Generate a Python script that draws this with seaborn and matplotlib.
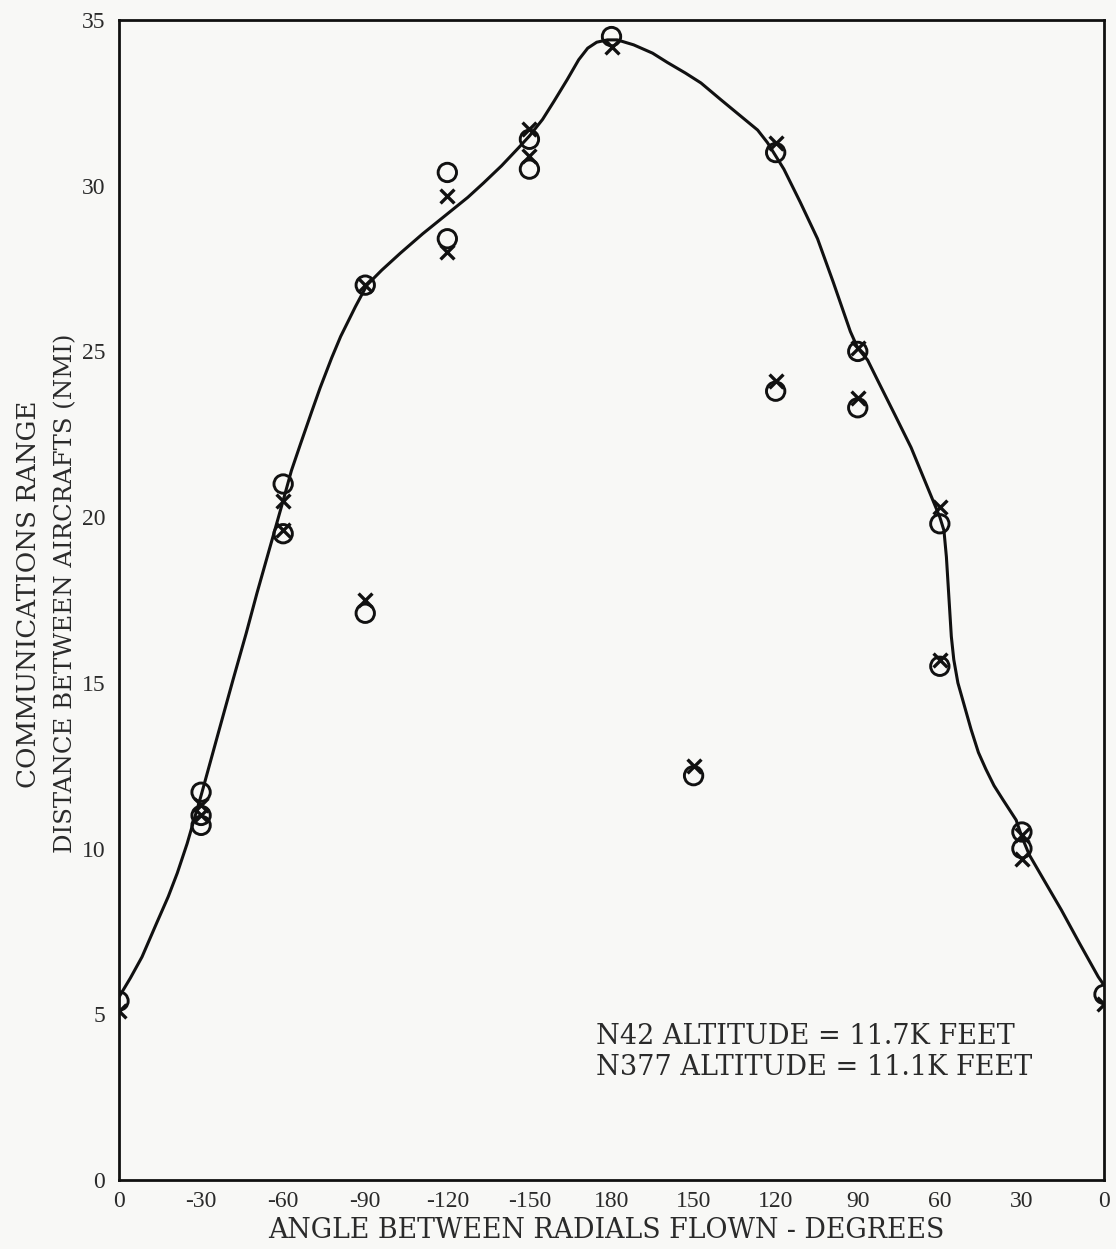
import numpy as np
import pandas as pd
import matplotlib
matplotlib.use("Agg")
import matplotlib.pyplot as plt
import seaborn as sns

# ---- data (x measured as sweep position in degrees, 0..360, labelled by angle) ----
tick_pos = [0, 30, 60, 90, 120, 150, 180, 210, 240, 270, 300, 330, 360]
tick_labels = ["0", "-30", "-60", "-90", "-120", "-150", "180", "150", "120", "90", "60", "30", "0"]
y_ticks = [0, 5, 10, 15, 20, 25, 30, 35]

circle_x = [0, 30, 30, 30, 60, 60, 90, 90, 120, 120, 150, 150, 180, 210, 240, 240, 270, 270, 300, 300, 330, 330, 360]
circle_y = [5.4, 11.7, 11.0, 10.7, 21.0, 19.5, 17.1, 27.0, 30.4, 28.4, 31.4, 30.5, 34.5, 12.2, 31.0, 23.8, 25.0, 23.3, 19.8, 15.5, 10.5, 10.0, 5.6]

cross_x = [0, 30, 30, 60, 60, 90, 90, 120, 120, 150, 150, 180, 210, 240, 240, 270, 270, 300, 300, 330, 330, 360]
cross_y = [5.1, 11.3, 11.0, 20.5, 19.6, 17.5, 27.0, 29.7, 28.0, 31.7, 30.9, 34.2, 12.5, 31.3, 24.1, 25.1, 23.6, 20.3, 15.7, 10.4, 9.7, 5.3]

# hand-drawn fitted curve (x in degrees of sweep)
curve_x = [0.0, 4.2, 8.4, 13.8, 18.0, 21.3, 24.9, 30.0, 36.0, 41.7, 46.5, 50.4, 55.2, 60.0,
           63.0, 66.3, 70.5, 73.5, 77.7, 81.0, 86.4, 90.6, 96.0, 102.9, 111.0, 120.0, 127.5,
           133.2, 139.8, 146.1, 150.0, 154.8, 159.0, 163.8, 168.0, 171.3, 174.6, 178.5,
           182.1, 188.1, 195.0, 200.4, 207.0, 212.7, 219.9, 226.5, 233.4, 237.0, 240.0,
           243.0, 249.0, 255.3, 261.0, 267.3, 270.0, 273.6, 277.2, 283.5, 289.5, 295.5,
           300.0, 301.5, 302.4, 303.0, 303.6, 304.2, 305.1, 306.6, 309.0, 311.4, 314.1,
           316.8, 319.8, 323.1, 327.9, 330.0, 332.7, 338.4, 344.4, 351.0, 357.9, 360.0]
curve_y = [5.52, 6.10, 6.73, 7.76, 8.55, 9.26, 10.15, 11.60, 13.40, 15.10, 16.50, 17.70,
           19.10, 20.50, 21.40, 22.20, 23.20, 23.90, 24.80, 25.45, 26.35, 27.00, 27.45,
           27.97, 28.55, 29.15, 29.65, 30.08, 30.60, 31.15, 31.50, 32.00, 32.55, 33.20,
           33.80, 34.15, 34.33, 34.40, 34.40, 34.25, 34.00, 33.72, 33.40, 33.10, 32.60,
           32.15, 31.68, 31.30, 30.90, 30.50, 29.50, 28.40, 27.10, 25.60, 25.10, 24.74,
           24.14, 23.10, 22.10, 20.90, 20.00, 19.60, 18.80, 18.00, 17.20, 16.40, 15.70,
           15.00, 14.30, 13.60, 12.90, 12.40, 11.90, 11.47, 10.86, 10.35, 9.81, 9.00, 8.15,
           7.15, 6.13, 5.88]

annotation_lines = ["N42 ALTITUDE = 11.7K FEET", "N377 ALTITUDE = 11.1K FEET"]
xlabel = "ANGLE BETWEEN RADIALS FLOWN - DEGREES"
ylabel_1 = "COMMUNICATIONS RANGE"
ylabel_2 = "DISTANCE BETWEEN AIRCRAFTS (NMI)"

# ---- figure ----
sns.set_theme(style="white")
plt.rcParams["font.family"] = ["Liberation Serif", "DejaVu Serif"]
paper = "#f8f8f6"
ink = "#111111"
text_ink = "#2a2a2a"

fig = plt.figure(figsize=(11.16, 12.49), dpi=100, facecolor=paper)
ax = fig.add_axes([119 / 1116, 1 - 1180 / 1249, (1104 - 119) / 1116, (1180 - 20) / 1249])
ax.set_facecolor(paper)

curve_df = pd.DataFrame({"x": curve_x, "y": curve_y})
sns.lineplot(data=curve_df, x="x", y="y", sort=False, color=ink, linewidth=2.2, ax=ax)

circ_df = pd.DataFrame({"x": circle_x, "y": circle_y})
sns.scatterplot(data=circ_df, x="x", y="y", marker="o", s=175, facecolor="none",
                edgecolor=ink, linewidth=2.1, ax=ax, zorder=3)
cross_df = pd.DataFrame({"x": cross_x, "y": cross_y})
sns.scatterplot(data=cross_df, x="x", y="y", marker="x", s=100, color=ink,
                linewidth=2.4, ax=ax, zorder=4)

ax.set_xlim(0, 360)
ax.set_ylim(0, 35)
ax.set_xticks(tick_pos)
ax.set_xticklabels(tick_labels)
ax.set_yticks(y_ticks)
ax.set_yticklabels([str(v) for v in y_ticks])
ax.tick_params(axis="both", direction="in", length=16, width=2, colors=ink,
               labelsize=17, labelcolor=text_ink)
ax.tick_params(axis="x", pad=8)
ax.tick_params(axis="y", pad=10)
for s in ax.spines.values():
    s.set_visible(True)
    s.set_color(ink)
    s.set_linewidth(2.0)
ax.set_xlabel("")
ax.set_ylabel("")

fig.text(606 / 1116, 1 - 1230 / 1249, xlabel, ha="center", va="center",
         fontsize=19.3, color=text_ink, family=["DejaVu Serif"])
fig.text(29 / 1116, 1 - 594 / 1249, ylabel_1, rotation=90, ha="center", va="center",
         fontsize=18.8, color=text_ink, family=["DejaVu Serif"])
fig.text(66 / 1116, 1 - 593 / 1249, ylabel_2, rotation=90, ha="center", va="center",
         fontsize=17.6, color=text_ink, family=["DejaVu Serif"])

for i, line in enumerate(annotation_lines):
    ax.text(0.484, 0.124 - i * 0.027, line, transform=ax.transAxes, ha="left", va="center",
            fontsize=19.5, color=text_ink, family=["DejaVu Serif"])

fig.savefig("out.png", dpi=100, facecolor=paper)
